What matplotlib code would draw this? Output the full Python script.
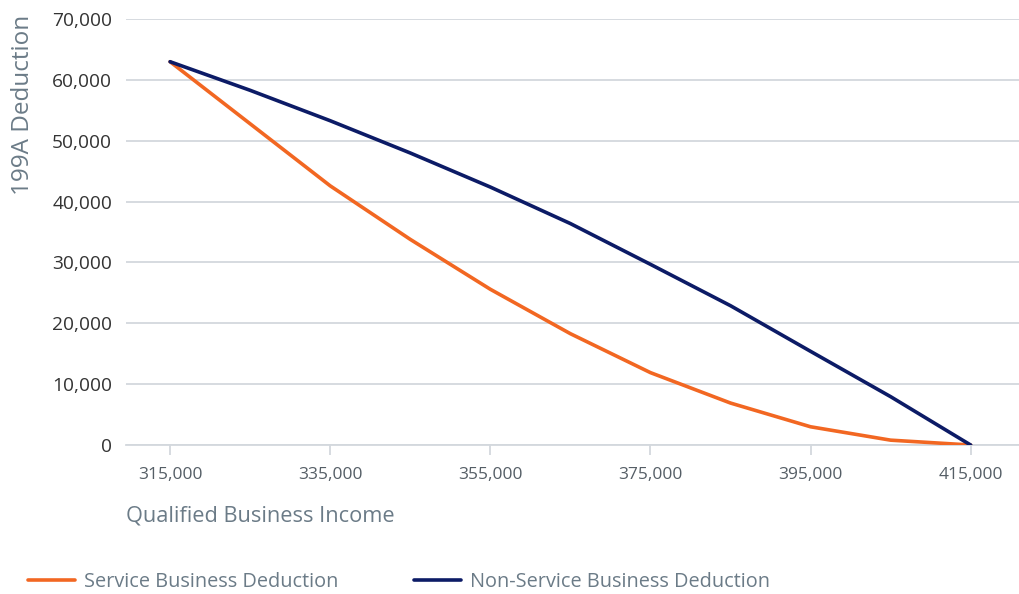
import matplotlib
matplotlib.use("Agg")
import matplotlib.pyplot as plt
from matplotlib.ticker import FuncFormatter

income = [315000, 325000, 335000, 345000, 355000, 365000, 375000, 385000, 395000, 405000, 415000]
service = [63000, 52800, 42600, 33800, 25600, 18300, 11900, 6900, 3000, 800, 0]
non_service = [63000, 58300, 53300, 48000, 42400, 36400, 29700, 22900, 15400, 7950, 0]
x_ticks = [315000, 335000, 355000, 375000, 395000, 415000]
y_ticks = [0, 10000, 20000, 30000, 40000, 50000, 60000, 70000]

plt.rcParams['font.family'] = ['Open Sans', 'DejaVu Sans']

fig = plt.figure(figsize=(10.19, 5.94), dpi=100)
ax = fig.add_axes([0.1237, 0.2508, 0.876, 0.717])

orange = '#f26722'
navy = '#0c1b66'
grid_c = '#d3d8dd'
label_c = '#6b7b87'

l1, = ax.plot(income, service, color=orange, lw=2.6, solid_capstyle='round', label='Service Business Deduction', zorder=3)
l2, = ax.plot(income, non_service, color=navy, lw=2.6, solid_capstyle='round', label='Non-Service Business Deduction', zorder=3)

ax.set_xlim(309500, 421000)
ax.set_ylim(0, 70000)
ax.set_yticks(y_ticks)
ax.set_xticks(x_ticks)
fmt = FuncFormatter(lambda v, p: f"{int(v):,}")
ax.yaxis.set_major_formatter(fmt)
ax.xaxis.set_major_formatter(fmt)

ax.grid(axis='y', color=grid_c, lw=1.3)
ax.set_axisbelow(True)
for s in ['top', 'right', 'left']:
    ax.spines[s].set_visible(False)
ax.spines['bottom'].set_color(grid_c)
ax.spines['bottom'].set_linewidth(1.3)
ax.tick_params(axis='y', length=0, pad=10, labelsize=13.8, labelcolor='#333333')
ax.tick_params(axis='x', length=7, width=1.3, color=grid_c, pad=9, labelsize=12.5, labelcolor='#555e66')

ax.set_xlabel('Qualified Business Income', fontsize=15.7, color=label_c, loc='left', labelpad=16)
ax.set_ylabel('199A Deduction', fontsize=17.5, color=label_c, loc='top')
ax.yaxis.set_label_coords(-0.102, 1.01)

fig.legend(handles=[l1, l2], loc='center left', bbox_to_anchor=(0.0275, 0.021), ncol=2,
           frameon=False, fontsize=14.3, labelcolor=label_c, handlelength=2.35,
           columnspacing=3.85, handletextpad=0.45, borderaxespad=0, borderpad=0)

fig.savefig('out.png', dpi=100)
